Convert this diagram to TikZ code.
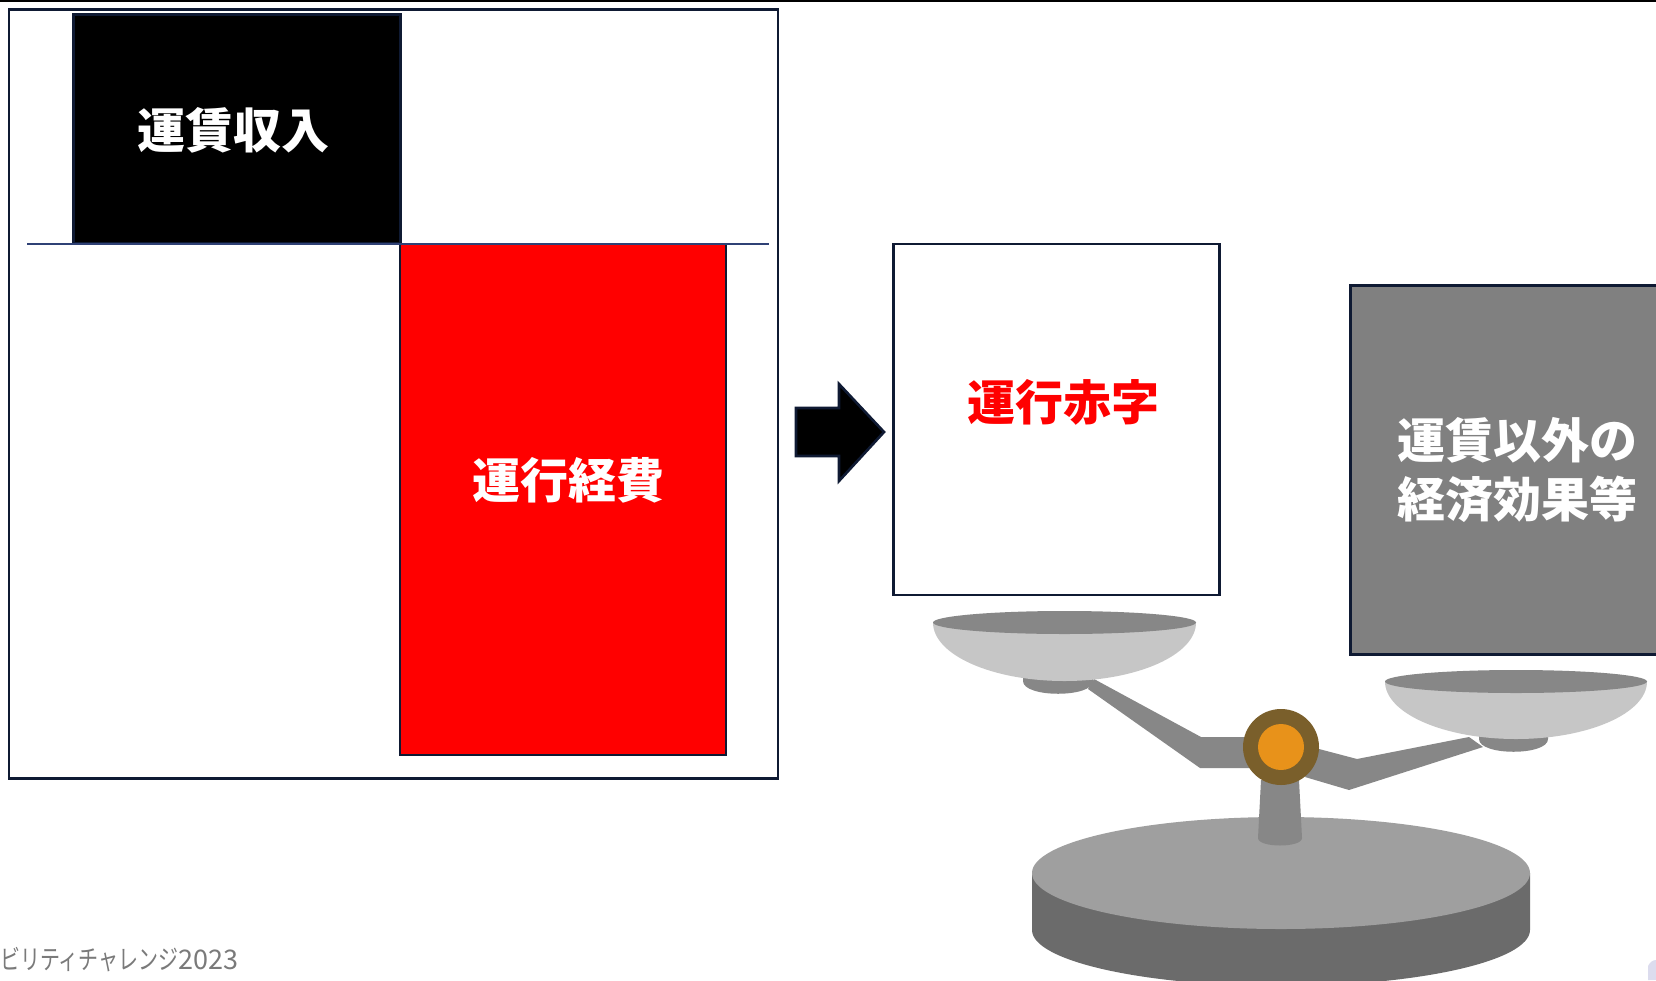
\documentclass[tikz,border=0pt]{standalone}
\usepackage{fontspec}
\newfontfamily\cjk{Noto Sans CJK JP}
\newfontfamily\cjkn[FakeStretch=0.74]{Noto Sans CJK JP}
\definecolor{edge}{HTML}{0F1A33}
\definecolor{rule}{HTML}{2F4175}
\definecolor{hubouter}{HTML}{7A5F2B}
\definecolor{hubinner}{HTML}{E8921A}
\definecolor{armgrey}{HTML}{878787}
\definecolor{bowlgrey}{HTML}{C6C6C6}
\definecolor{basetop}{HTML}{9F9F9F}
\definecolor{baseside}{HTML}{6B6B6B}
\definecolor{lilac}{HTML}{DCDCEE}
\tikzset{
  panel/.style={draw=edge,line width=2.6pt},
  bigtext/.style={font=\cjk\bfseries\fontsize{48}{54}\selectfont,align=center,inner sep=0pt},
  foot/.style={font=\fontsize{27}{34}\selectfont,text=black!52,anchor=base west,inner sep=0pt},
}
\begin{document}
\begin{tikzpicture}[x=1pt,y=-1pt]
\useasboundingbox (0,0) rectangle (1656,980);
\clip (0,0) rectangle (1656,980);
\fill[white] (0,0) rectangle (1656,980);
\fill[black] (0,0) rectangle (1656,2);
% left panel
\node[panel,fill=white,minimum width=769pt,minimum height=769pt,inner sep=0pt] (outer) at (393.5,394) {};
\node[panel,fill=black,minimum width=327pt,minimum height=229pt,inner sep=0pt] (income) at (237,129) {};
\node[panel,fill=red,minimum width=326pt,minimum height=511pt,inner sep=0pt] (cost) at (563,499.5) {};
\coordinate (rl) at (27,244); \coordinate (rr) at (769,244);
\draw[rule,line width=2.6pt] (rl) -- (rr);
\node[bigtext,text=white] (t1) at (233,130) {運賃収入};
\node[bigtext,text=white] (t2) at (568,480) {運行経費};
% arrow
\draw[panel,fill=black,line join=miter] (796,408) -- (839,408) -- (839,384) -- (884,432) -- (839,481) -- (839,456) -- (796,456) -- cycle;
% scale base
\fill[baseside] (1032,873) -- (1032,930) arc[start angle=180,end angle=0,x radius=249,y radius=56] -- (1530,873) -- cycle;
\fill[basetop] (1281,873) ellipse[x radius=249,y radius=56];
% post
\fill[armgrey] (1261,780) -- (1299,780) -- (1302,838) .. controls (1302,848) and (1258,848) .. (1258,838) -- cycle;
% arms
\fill[armgrey] (1094,679) -- (1201,737) -- (1250,737) -- (1250,768) -- (1200,768) -- (1088,689) -- cycle;
\fill[armgrey] (1319,749) -- (1357,759) -- (1469,737) -- (1483,747) -- (1349,790) -- (1305,777) -- cycle;
% feet
\fill[armgrey] (1023,676) -- (1023,681) .. controls (1023,698) and (1093,698) .. (1093,681) -- (1093,676) -- cycle;
\fill[armgrey] (1479,734) -- (1479,739) .. controls (1479,756) and (1548,756) .. (1548,739) -- (1548,734) -- cycle;
% pans
\fill[bowlgrey] (933,622.5) arc[start angle=180,end angle=0,x radius=131.5,y radius=58.5] -- cycle;
\fill[armgrey] (1064.5,622.5) ellipse[x radius=131.5,y radius=11.5];
\fill[bowlgrey] (1385,681.5) arc[start angle=180,end angle=0,x radius=131,y radius=57.5] -- cycle;
\fill[armgrey] (1516,681.5) ellipse[x radius=131,y radius=11.5];
% hub
\fill[hubouter] (1281,747) circle[radius=38];
\fill[hubinner] (1281,747) circle[radius=23];
% right boxes
\node[panel,fill=white,minimum width=326pt,minimum height=351pt,inner sep=0pt] (deficit) at (1056.5,419.5) {};
\node[panel,fill=black!50,minimum width=330pt,minimum height=369pt,inner sep=0pt,anchor=north west] (other) at (1349,284) {};
\node[bigtext,text=red] (t3) at (1063,402) {運行赤字};
\node[bigtext,text=white] (t4) at (1517,470) {運賃以外の\\[5pt]経済効果等};
% footer
\node[foot] (f1) at (0,969) {\cjkn ビリティチャレンジ\cjk 2023};
% corner fragment
\fill[lilac] (1648,980) -- (1648,966) .. controls (1650,962) and (1653,960) .. (1656,960) -- (1656,980) -- cycle;
\end{tikzpicture}
\end{document}
